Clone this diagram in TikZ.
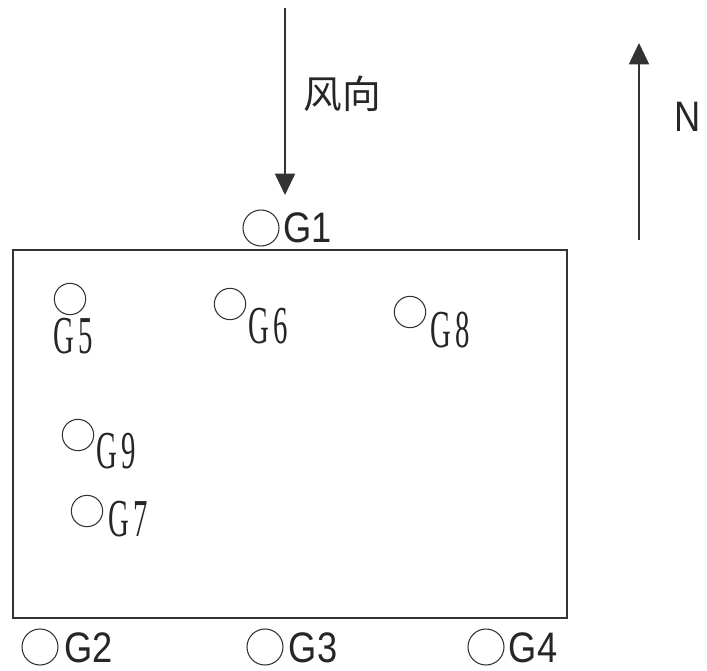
\documentclass[tikz,border=0pt]{standalone}
\usepackage{fontspec}
\setmainfont{Liberation Sans}
\newfontfamily\cjk{Noto Sans CJK SC}
\newfontfamily\gser{Liberation Serif}
\usetikzlibrary{arrows.meta}
\newcommand\narrowtxt[2]{\scalebox{#1}[1]{#2}}
\begin{document}
\begin{tikzpicture}[x=0.75pt,y=-0.75pt,
  frame/.style={draw=black!80, line width=1.4pt},
  arrowline/.style={draw=black!80, line width=1.4pt, -{Triangle[length=16pt,width=15pt]}},
  outpt/.style={circle, draw=black!80, line width=0.8pt, minimum size=27pt, inner sep=0pt},
  inpt/.style={circle, draw=black!80, line width=0.8pt, minimum size=23.5pt, inner sep=0pt},
  outlab/.style={inner sep=0pt, text=black!85, font=\fontsize{32}{32}\selectfont},
  inlab/.style={inner sep=0pt, text=black!85, font=\gser\fontsize{40}{40}\selectfont},
]
\useasboundingbox (0,0) rectangle (707,671);

% site boundary
\draw[frame] (13,250) rectangle (567,618);

% wind direction arrow
\coordinate (wtop) at (285,8);
\coordinate (wtip) at (285,195);
\draw[arrowline] (wtop) -- (wtip);
\node[inner sep=0pt, text=black!85, font=\cjk\fontsize{29}{29}\selectfont] (wind) at (342,94) {风向};

% north arrow
\coordinate (nbot) at (639,240);
\coordinate (ntip) at (639,43);
\draw[arrowline] (nbot) -- (ntip);
\node[outlab] (north) at (688,117) {\narrowtxt{0.85}{N}};

% outside monitoring points
\node[outpt] (c1) at (261,228) {};
\node[outlab] (g1) at (307.5,228) {\narrowtxt{0.85}{G1}};
\node[outpt] (c2) at (40,647) {};
\node[outlab] (g2) at (88.5,648) {\narrowtxt{0.85}{G2}};
\node[outpt] (c3) at (265,647) {};
\node[outlab] (g3) at (313,648) {\narrowtxt{0.85}{G3}};
\node[outpt] (c4) at (486,647) {};
\node[outlab] (g4) at (533,648) {\narrowtxt{0.85}{G4}};

% inside monitoring points
\node[inpt] (c5) at (70,299) {};
\node[inlab] (g5) at (73,336) {\narrowtxt{0.54}{G\,5}};
\node[inpt] (c6) at (230,304) {};
\node[inlab] (g6) at (268,326) {\narrowtxt{0.54}{G\,6}};
\node[inpt] (c8) at (410,312) {};
\node[inlab] (g8) at (450,330) {\narrowtxt{0.54}{G\,8}};
\node[inpt] (c9) at (78,435) {};
\node[inlab] (g9) at (116,451) {\narrowtxt{0.54}{G\,9}};
\node[inpt] (c7) at (87,511) {};
\node[inlab] (g7) at (128,519) {\narrowtxt{0.54}{G\,7}};
\end{tikzpicture}
\end{document}
